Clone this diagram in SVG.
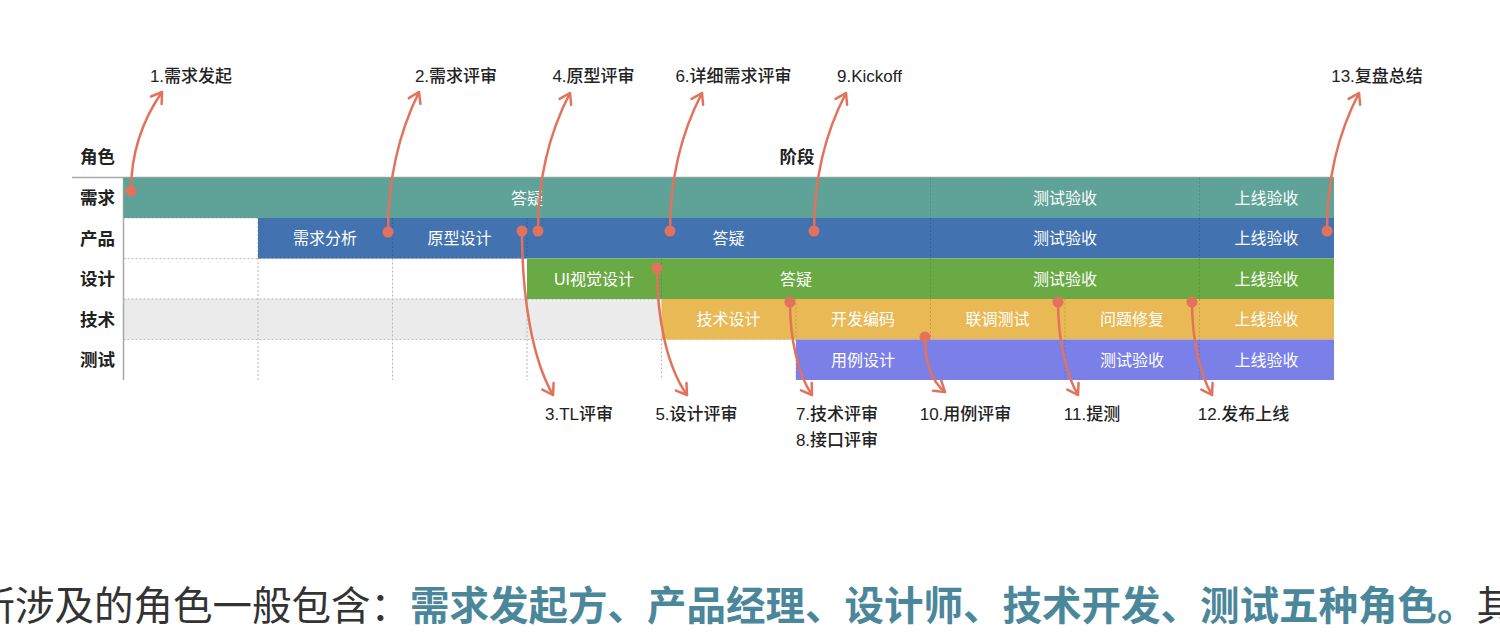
<svg xmlns="http://www.w3.org/2000/svg" width="1500" height="638" viewBox="0 0 1500 638">
<style>
.lbl{font-family:"Liberation Sans","Noto Sans CJK SC",sans-serif;font-size:17px;fill:#222;font-weight:500;text-anchor:middle}
.hdr{font-family:"Liberation Sans","Noto Sans CJK SC",sans-serif;font-size:17.5px;fill:#222;font-weight:bold;text-anchor:middle}
.bt{font-family:"Liberation Sans","Noto Sans CJK SC",sans-serif;font-size:16px;fill:#fff;text-anchor:middle}
.dotw{stroke:#b8b8b8;stroke-width:1;stroke-dasharray:2 2;fill:none}
.dotc{stroke:#000;stroke-opacity:0.14;stroke-width:1;stroke-dasharray:2 2;fill:none}
.arr{fill:none;stroke:#e2725b;stroke-width:2.5;stroke-linecap:round;marker-end:url(#ah)}
.dot{fill:#e2725b}
.body{font-family:"Noto Sans CJK SC",sans-serif;font-size:39.5px;fill:#333}
.em{fill:#4a879a;font-weight:bold}
</style>
<defs>
<marker id="ah" viewBox="-12 -8 14 16" markerWidth="14" markerHeight="16" refX="0" refY="0" orient="auto" markerUnits="userSpaceOnUse">
<path d="M-10,-6.5 L0,0 L-10,6.5" fill="none" stroke="#e2725b" stroke-width="2.5" stroke-linecap="round" stroke-linejoin="round"/>
</marker>
</defs>
<rect width="1500" height="638" fill="#fff"/>

<g id="headers">
<text class="hdr" x="97.5" y="163">角色</text>
<text class="hdr" x="797" y="163">阶段</text>
<text class="hdr" x="97.5" y="204">需求</text>
<text class="hdr" x="97.5" y="244.5">产品</text>
<text class="hdr" x="97.5" y="285">设计</text>
<text class="hdr" x="97.5" y="325.5">技术</text>
<text class="hdr" x="97.5" y="366">测试</text>
</g>

<g id="grid">
<rect x="123.5" y="299" width="538" height="40.5" fill="#ebebeb"/>
<path class="dotw" d="M123.5,218H258 M123.5,258.5H527 M123.5,299H661.5 M123.5,339.5H796 M258,218V380 M392.5,258.5V380 M527,299V380 M661.5,339.5V380 M796,339.5V380"/>
<line x1="72" y1="177.5" x2="1334" y2="177.5" stroke="#a8a8a8" stroke-width="1.5"/>
<line x1="123.5" y1="177.5" x2="123.5" y2="380" stroke="#a8a8a8" stroke-width="1.5"/>
</g>

<g id="row-xuqiu">
<rect x="123.5" y="177.5" width="1210.5" height="40.5" fill="#5fa298"/>
<path class="dotc" d="M930.5,177.5V218 M1199.5,177.5V218"/>
<text class="bt" x="527" y="203.5">答疑</text>
<text class="bt" x="1065" y="203.5">测试验收</text>
<text class="bt" x="1266.5" y="203.5">上线验收</text>
</g>

<g id="row-chanpin">
<rect x="258" y="218" width="1076" height="40.5" fill="#4272b0"/>
<path class="dotc" d="M392.5,218V258.5 M527,218V258.5 M930.5,218V258.5 M1199.5,218V258.5"/>
<text class="bt" x="325" y="244">需求分析</text>
<text class="bt" x="459.5" y="244">原型设计</text>
<text class="bt" x="728.5" y="244">答疑</text>
<text class="bt" x="1065" y="244">测试验收</text>
<text class="bt" x="1266.5" y="244">上线验收</text>
</g>

<g id="row-sheji">
<rect x="527" y="258.5" width="807" height="40.5" fill="#6aaa45"/>
<path class="dotc" d="M661.5,258.5V299 M930.5,258.5V299 M1199.5,258.5V299"/>
<text class="bt" x="594" y="284.5">UI视觉设计</text>
<text class="bt" x="796" y="284.5">答疑</text>
<text class="bt" x="1065" y="284.5">测试验收</text>
<text class="bt" x="1266.5" y="284.5">上线验收</text>
</g>

<g id="row-jishu">
<rect x="661.5" y="299" width="672.5" height="40.5" fill="#e8b955"/>
<path class="dotc" d="M796,299V339.5 M930.5,299V339.5 M1065,299V339.5 M1199.5,299V339.5"/>
<text class="bt" x="728.5" y="325">技术设计</text>
<text class="bt" x="863" y="325">开发编码</text>
<text class="bt" x="997.5" y="325">联调测试</text>
<text class="bt" x="1132" y="325">问题修复</text>
<text class="bt" x="1266.5" y="325">上线验收</text>
</g>

<g id="row-ceshi">
<rect x="796" y="339.5" width="538" height="40.5" fill="#7b80e9"/>
<path class="dotc" d="M1065,339.5V380 M1199.5,339.5V380"/>
<text class="bt" x="863" y="365.5">用例设计</text>
<text class="bt" x="1132" y="365.5">测试验收</text>
<text class="bt" x="1266.5" y="365.5">上线验收</text>
</g>

<g id="milestones">
<text class="lbl" x="191" y="82">1.需求发起</text>
<text class="lbl" x="456" y="82">2.需求评审</text>
<text class="lbl" x="593.5" y="82">4.原型评审</text>
<text class="lbl" x="733.5" y="82">6.详细需求评审</text>
<text class="lbl" x="869.5" y="82">9.Kickoff</text>
<text class="lbl" x="1377" y="82">13.复盘总结</text>
<text class="lbl" x="579" y="420">3.TL评审</text>
<text class="lbl" x="696.5" y="420">5.设计评审</text>
<text class="lbl" x="837" y="420">7.技术评审</text>
<text class="lbl" x="837" y="446">8.接口评审</text>
<text class="lbl" x="965.5" y="420">10.用例评审</text>
<text class="lbl" x="1092" y="420">11.提测</text>
<text class="lbl" x="1243.5" y="420">12.发布上线</text>
</g>

<g id="connectors">
<path class="arr" d="M131,191 C131,155.4 140,123.7 162,92"/>
<path class="arr" d="M388,232 C388,181.6 397,136.8 419,92"/>
<path class="arr" d="M538,231 C538,181.3 547,137.2 570,93"/>
<path class="arr" d="M670,231 C670,181.3 679,137.2 702,93"/>
<path class="arr" d="M814,231 C814,181.3 823,137.2 846,93"/>
<path class="arr" d="M1327,231 C1327,181.3 1336,137.2 1359,93"/>
<path class="arr" d="M522,231 C522,296.6 532,358.9 553,395"/>
<path class="arr" d="M657,268 C657,318.8 667,367 687,395"/>
<path class="arr" d="M790,302 C790,339.2 798,374.5 812,395"/>
<path class="arr" d="M925,337 C925,359 930,380 945,392"/>
<path class="arr" d="M1058,302 C1058,339 1066,374.5 1078,395"/>
<path class="arr" d="M1192,302 C1192,339 1200,374.5 1212,395"/>
<circle class="dot" cx="131" cy="191" r="5.5"/>
<circle class="dot" cx="388" cy="232" r="5.5"/>
<circle class="dot" cx="538" cy="231" r="5.5"/>
<circle class="dot" cx="670" cy="231" r="5.5"/>
<circle class="dot" cx="814" cy="231" r="5.5"/>
<circle class="dot" cx="1327" cy="231" r="5.5"/>
<circle class="dot" cx="522" cy="231" r="5.5"/>
<circle class="dot" cx="657" cy="268" r="5.5"/>
<circle class="dot" cx="790" cy="302" r="5.5"/>
<circle class="dot" cx="925" cy="337" r="5.5"/>
<circle class="dot" cx="1058" cy="302" r="5.5"/>
<circle class="dot" cx="1192" cy="302" r="5.5"/>
</g>

<text class="body" x="-24.5" y="620">所涉及的角色一般包含：<tspan class="em">需求发起方、产品经理、设计师、技术开发、测试五种角色。</tspan>其</text>
</svg>
